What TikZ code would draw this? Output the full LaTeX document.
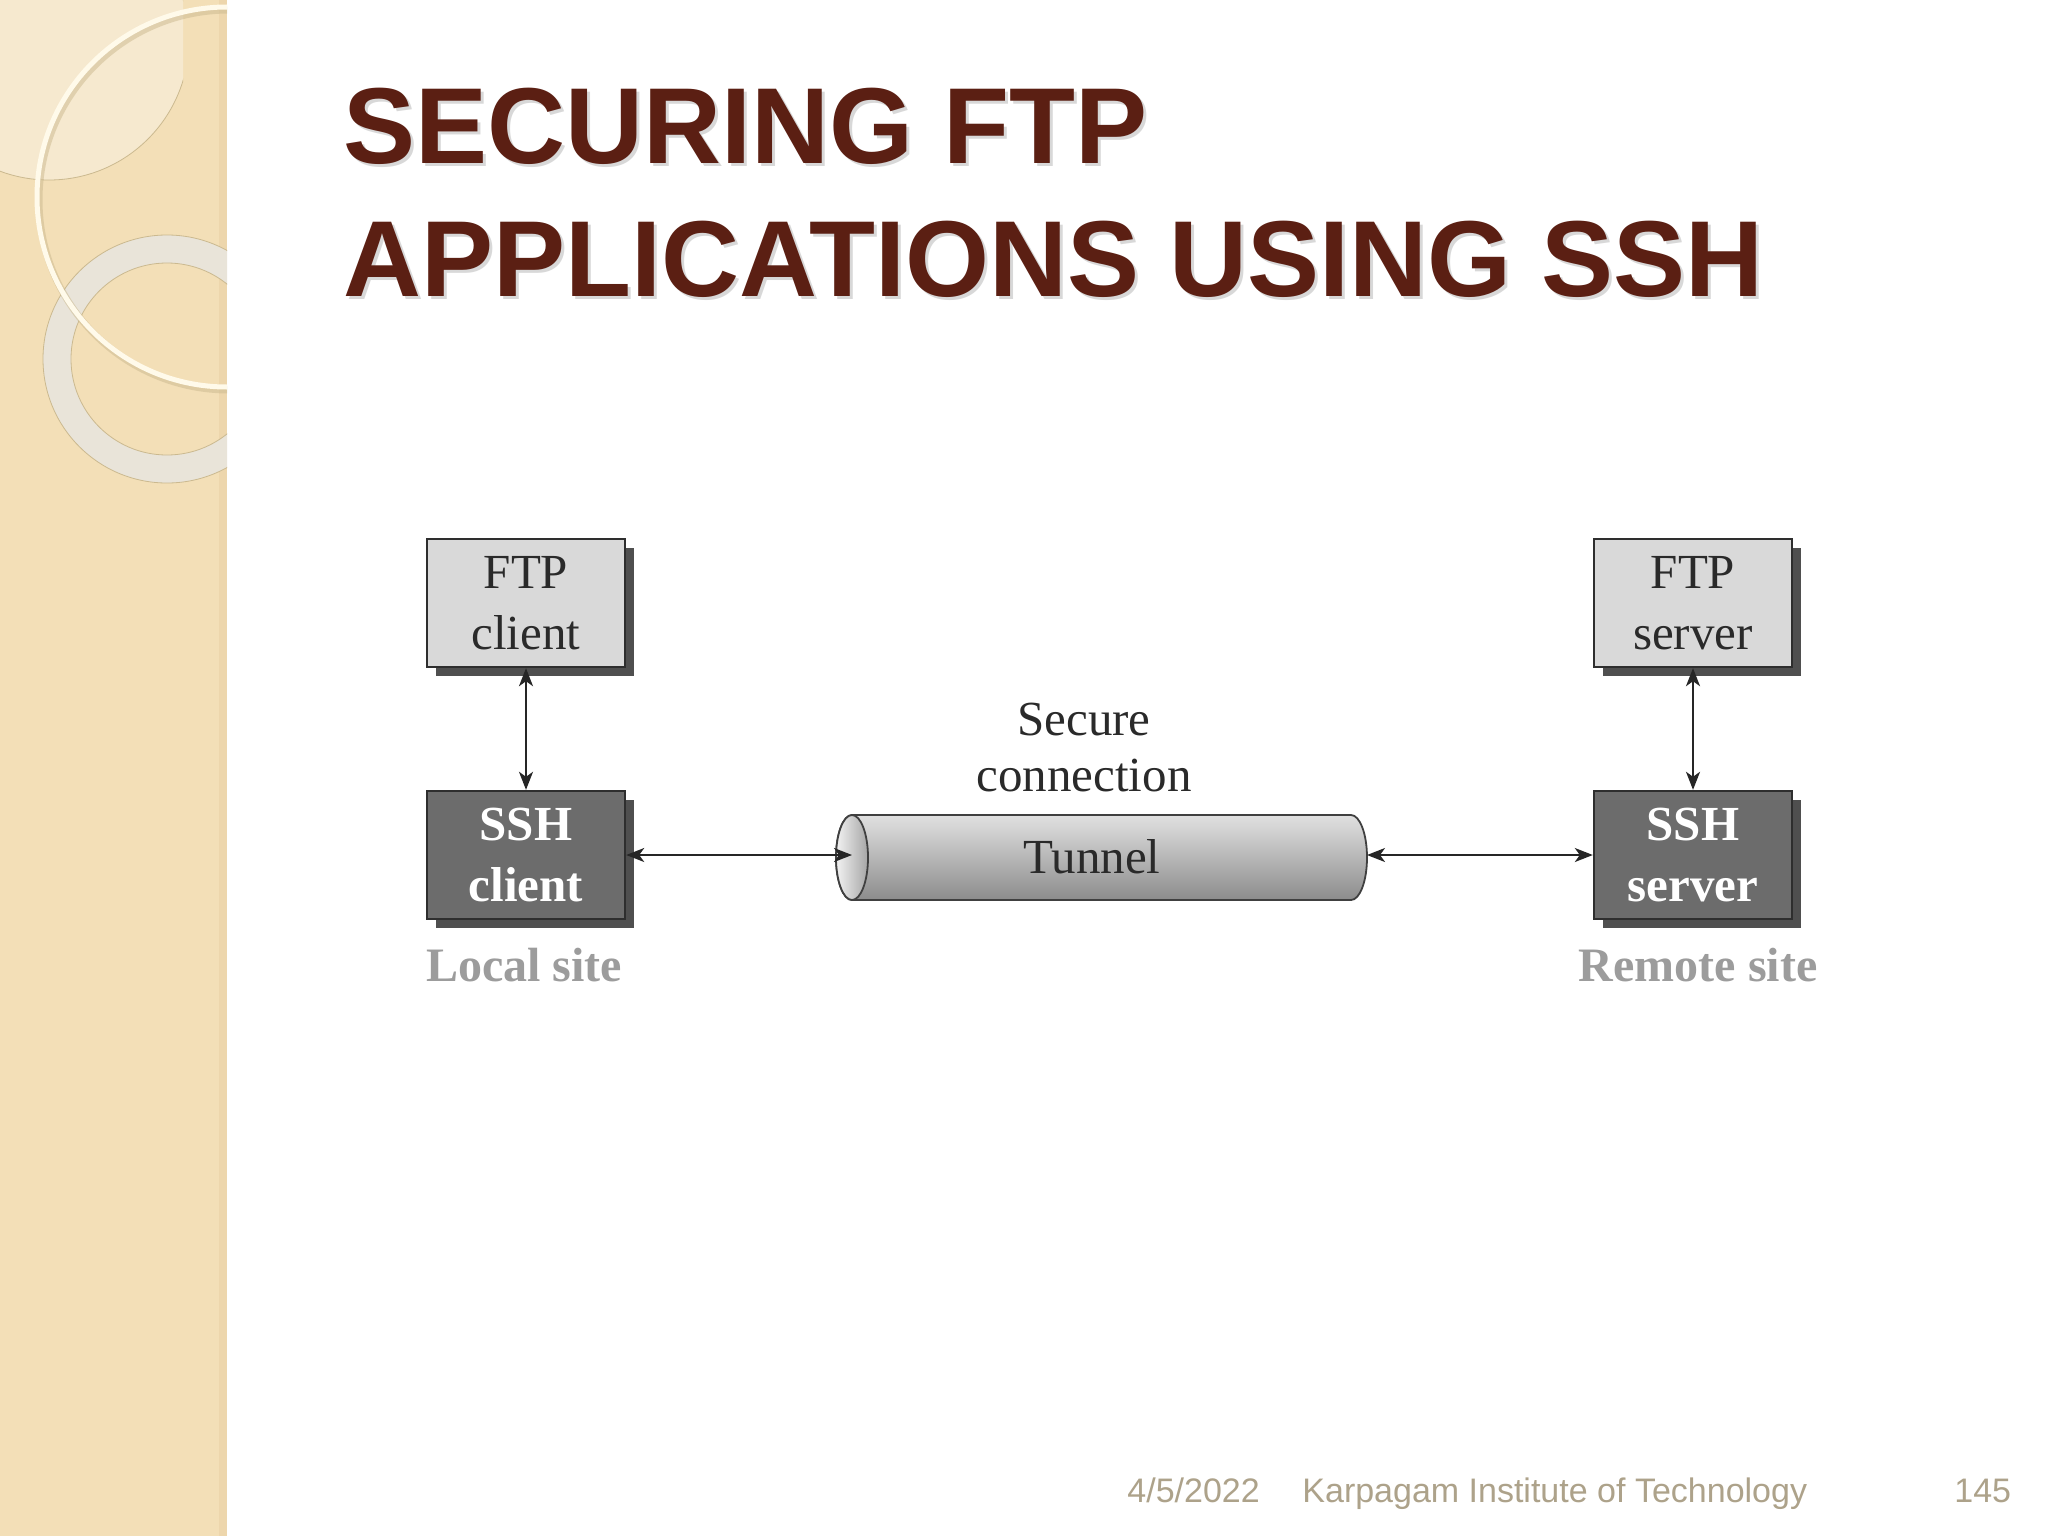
\documentclass[tikz,border=0pt]{standalone}
\usepackage{fontspec}
\setmainfont{Liberation Serif}
\newfontfamily\slidefont{Liberation Sans}
\usepackage{tikz}
\usepackage{xcolor}
\usetikzlibrary{arrows.meta,shadows,positioning}
\definecolor{band}{HTML}{F3DFB7}
\definecolor{bandlight}{HTML}{F6E9CF}
\definecolor{bandshade}{HTML}{EDD6AC}
\definecolor{ringgray}{HTML}{E9E4D9}
\definecolor{ringedge}{HTML}{CBB98F}
\definecolor{ringwhite}{HTML}{FFFAEA}
\definecolor{titlered}{HTML}{5B1F13}
\definecolor{footgray}{HTML}{ADA28A}
\definecolor{ftpfill}{HTML}{D9D9D9}
\definecolor{sshfill}{HTML}{6C6C6C}
\definecolor{boxline}{HTML}{2E2E2E}
\definecolor{boxshadow}{HTML}{4F4F4F}
\definecolor{textdark}{HTML}{2A2A2A}
\definecolor{sitegray}{HTML}{9C9C9C}

\begin{document}
\begin{tikzpicture}[x=0.5pt,y=-0.5pt,
  ftpbox/.style={draw=boxline, line width=1.2pt, fill=ftpfill, minimum width=99pt,
    minimum height=64pt, inner sep=0pt, align=center, text=textdark,
    font=\fontsize{24.5}{30.5}\selectfont,
    drop shadow={shadow xshift=4.5pt, shadow yshift=-4.5pt, fill=boxshadow, opacity=1}},
  sshbox/.style={ftpbox, fill=sshfill, text=white, font=\bfseries\fontsize{24.5}{30.5}\selectfont},
  sitetext/.style={text=sitegray, font=\bfseries\fontsize{24}{28}\selectfont, inner sep=0pt},
  plaintext/.style={text=textdark, font=\fontsize{24.5}{28}\selectfont, inner sep=0pt, align=center},
  titletext/.style={anchor=base west, inner sep=0pt, font=\slidefont\bfseries\fontsize{54}{66}\selectfont},
  foottext/.style={anchor=base west, inner sep=0pt, text=footgray, font=\slidefont\fontsize{17}{20}\selectfont},
  tunnelline/.style={draw=black!75, line width=0.9pt},
  duplex/.style={{Stealth[length=9pt,width=7pt,inset=2.5pt]}-{Stealth[length=9pt,width=7pt,inset=2.5pt]}, line width=1pt, draw=black!85}]
\useasboundingbox (0,0) rectangle (2048,1536);
\fill[white] (0,0) rectangle (2048,1536);

% side band
\begin{scope}
  \clip (0,0) rectangle (227,1536);
  \fill[band] (0,0) rectangle (227,1536);
  \fill[bandshade] (219,0) rectangle (227,1536);
  \begin{scope}
    \clip (0,0) rectangle (183,183);
    \fill[bandlight] (49,40) circle (70pt);
    \draw[ringedge, line width=0.4pt] (49,40) circle (70pt);
  \end{scope}
  \draw[ringgray, line width=14pt] (167,359) circle (55pt);
  \draw[ringedge, line width=0.4pt] (167,359) circle (48pt) (167,359) circle (62pt);
  \draw[ringedge, line width=3.5pt, opacity=0.5] (229,200) circle (95pt);
  \draw[ringwhite, line width=2.5pt] (227,197) circle (95pt);
\end{scope}

% title
\node[titletext, text=black!30, opacity=0.5] (title1s) at (346,166) {SECURING FTP};
\node[titletext, text=black!30, opacity=0.5] (title2s) at (346,299) {APPLICATIONS USING SSH};
\node[titletext, text=titlered] (title1) at (343,163) {SECURING FTP};
\node[titletext, text=titlered] (title2) at (343,296) {APPLICATIONS USING SSH};

% boxes
\node[ftpbox] (ftpc) at (526,603) {FTP\\client};
\node[sshbox] (sshc) at (526,855) {SSH\\client};
\node[ftpbox] (ftps) at (1693,603) {FTP\\server};
\node[sshbox] (sshs) at (1693,855) {SSH\\server};
\node[sitetext] (local) at (524,965) {Local site};
\node[sitetext] (remote) at (1698,965) {Remote site};

% tunnel
\path[tunnelline, top color=black!12, middle color=black!22, bottom color=black!45]
  (852,815) -- (1351,815) arc[start angle=90, end angle=-90, x radius=8pt, y radius=21.25pt]
  -- (852,900) arc[start angle=270, end angle=90, x radius=8pt, y radius=21.25pt] -- cycle;
\path[tunnelline, left color=black!5, right color=black!35] (852,857.5) ellipse [x radius=8pt, y radius=21.25pt];
\node[plaintext] (tunnel) at (1092,857) {Tunnel};
\node[plaintext] (secure) at (1084,748) {Secure\\connection};
\coordinate (tin) at (852,855);
\coordinate (tout) at (1367,855);

% connectors
\draw[duplex] (ftpc.south) -- (sshc.north);
\draw[duplex] (ftps.south) -- (sshs.north);
\draw[duplex] (sshc.east) -- (tin);
\draw[duplex] (tout) -- (sshs.west);

% footer
\node[foottext] (date) at (1127,1502) {4/5/2022};
\node[foottext] (inst) at (1302,1502) {Karpagam Institute of Technology};
\node[foottext] (page) at (1954,1502) {145};
\end{tikzpicture}
\end{document}
